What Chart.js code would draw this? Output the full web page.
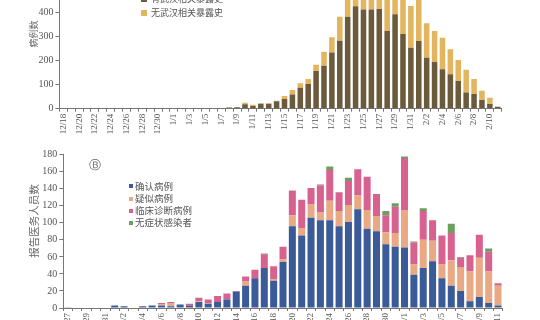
<!DOCTYPE html>
<html>
<head>
<meta charset="utf-8">
<script src="https://cdn.jsdelivr.net/npm/chart.js@4.4.1/dist/chart.umd.min.js"></script>
<style>
  body { margin: 0; width: 540px; height: 320px; overflow: hidden; background: #fff; position: relative;
         font-family: "Liberation Serif", "Noto Sans CJK SC", serif; }
  .box { position: absolute; left: 0; width: 540px; }
  .ytitle { position: absolute; white-space: nowrap; color: #666; transform: translate(-50%, -50%) rotate(-90deg);
            font-family: "Noto Sans CJK SC", sans-serif; }
  .legend { position: absolute; font-family: "Noto Sans CJK SC", sans-serif; color: #555; }
  .legend div { position: relative; white-space: nowrap; }
  .legend span { display: inline-block; vertical-align: middle; }
  .mark { position: absolute; font-family: "DejaVu Sans", sans-serif; color: #666; }
</style>
</head>
<body>
<div class="box" style="top:-20px;height:160px"><canvas id="chartA"></canvas></div>
<div class="box" style="top:140px;height:200px"><canvas id="chartB"></canvas></div>

<div class="ytitle" style="left:33px;top:34px;font-size:9px">病例数</div>
<div class="ytitle" style="left:33px;top:221px;font-size:10.5px">报告医务人员数</div>
<div class="mark" style="left:89px;top:157px;font-size:12px">Ⓑ</div>

<div class="legend" id="legA" style="left:141px;top:-9px;font-size:9px;line-height:13px"></div>
<div class="legend" id="legB" style="left:129px;top:180px;font-size:9.5px;line-height:11.5px"></div>

<script>
// top chart: 12/18 - 2/11
const datesA = ['12/18','12/19','12/20','12/21','12/22','12/23','12/24','12/25','12/26','12/27','12/28','12/29','12/30','12/31',
  '1/1','1/2','1/3','1/4','1/5','1/6','1/7','1/8','1/9','1/10','1/11','1/12','1/13','1/14','1/15','1/16','1/17','1/18','1/19',
  '1/20','1/21','1/22','1/23','1/24','1/25','1/26','1/27','1/28','1/29','1/30','1/31',
  '2/1','2/2','2/3','2/4','2/5','2/6','2/7','2/8','2/9','2/10','2/11'];
const withExposure = [2,0,2,0,0,0,0,0,1,0,1,0,0,0,
  0,1,2,1,3,2,3,5,6,18,11,20,20,31,40,59,87,102,156,
  178,233,281,381,424,411,411,413,322,391,309,252,
  280,211,193,163,143,115,67,61,36,19,8];
const noExposure = [0,0,0,0,0,0,0,0,0,0,0,0,0,0,
  0,0,0,0,0,0,0,0,0,7,5,3,3,2,13,18,18,21,26,
  58,63,100,100,90,85,95,80,190,110,180,173,
  180,143,129,131,103,87,94,62,38,26,0];

// bottom chart: 12/27 - 2/11
const datesB = ['12/27','12/28','12/29','12/30','12/31',
  '1/1','1/2','1/3','1/4','1/5','1/6','1/7','1/8','1/9','1/10','1/11','1/12','1/13','1/14','1/15','1/16','1/17','1/18','1/19',
  '1/20','1/21','1/22','1/23','1/24','1/25','1/26','1/27','1/28','1/29','1/30','1/31',
  '2/1','2/2','2/3','2/4','2/5','2/6','2/7','2/8','2/9','2/10','2/11'];
const confirmed = [1,0,0,0,0, 3,2,0,2,3,3,2,4,3,7,5,7,10,19,26,35,47,32,54,
  96,85,106,103,103,96,101,116,93,90,75,72, 71,39,47,55,35,26,20,8,13,6,3];
const suspected = [0,0,0,0,0, 0,0,0,0,0,1,4,0,0,1,1,0,0,0,5,0,0,2,3,
  13,9,16,9,23,18,20,16,22,18,14,16, 44,12,33,24,16,30,28,35,46,37,23];
const clinical = [0,0,0,0,0, 0,0,0,0,0,2,1,0,2,4,4,7,7,1,6,10,16,15,15,
  29,33,19,32,36,22,28,31,39,26,20,31, 61,26,34,24,34,32,11,19,27,23,3];
const asymptomatic = [0,0,0,0,0, 0,0,0,0,0,0,0,0,0,0,0,0,0,0,0,0,1,0,0,
  0,0,0,1,4,0,4,0,0,0,5,4, 2,1,3,0,0,11,1,0,0,4,0];

const namesA = ['有武汉相关暴露史', '无武汉相关暴露史'];
const colorsA = ['#6b5b3c', '#e2b55e'];
const namesB = ['确认病例', '疑似病例', '临床诊断病例', '无症状感染者'];
const colorsB = ['#3b5a98', '#e8a984', '#d8628f', '#6c9e5e'];

const tickFont = { family: 'Liberation Serif', size: 10 };
const axisColor = '#777';

function makeLegend(id, names, colors, sq) {
  const el = document.getElementById(id);
  names.forEach((n, i) => {
    const row = document.createElement('div');
    row.innerHTML = '<span style="width:' + sq + 'px;height:' + sq + 'px;background:' + colors[i] +
      ';margin-right:' + (sq > 5 ? 4 : 2) + 'px"></span><span>' + n + '</span>';
    el.appendChild(row);
  });
}
makeLegend('legA', namesA, colorsA, 6);
makeLegend('legB', namesB, colorsB, 4);

function scales(labels, yMax, yStep, yWidth, xHeight) {
  return {
    x: {
      stacked: true,
      grid: { display: true, drawOnChartArea: false, tickLength: 3, color: axisColor },
      border: { color: axisColor },
      ticks: {
        autoSkip: false, minRotation: 90, maxRotation: 90, padding: 2,
        font: { family: 'Liberation Serif', size: 9 }, color: '#555',
        callback: (v, i) => (i % 2 ? '' : labels[i])
      },
      afterFit: s => { s.height = xHeight; }
    },
    y: {
      stacked: true, min: 0, max: yMax,
      grid: { display: true, drawOnChartArea: false, tickLength: 4, color: axisColor },
      border: { color: axisColor },
      ticks: { stepSize: yStep, padding: 2, font: tickFont, color: '#555' },
      afterFit: s => { s.width = yWidth; }
    }
  };
}

new Chart(document.getElementById('chartA'), {
  type: 'bar',
  data: {
    labels: datesA,
    datasets: [
      { label: namesA[0], data: withExposure, backgroundColor: colorsA[0] },
      { label: namesA[1], data: noExposure, backgroundColor: colorsA[1] }
    ]
  },
  options: {
    responsive: true, maintainAspectRatio: false, animation: false,
    datasets: { bar: { categoryPercentage: 1, barPercentage: 0.7 } },
    layout: { padding: { top: 6.7, left: 0, right: 38.3, bottom: 0 } },
    plugins: { legend: { display: false }, tooltip: { enabled: false } },
    scales: scales(datesA, 500, 100, 59.4, 31.3)
  }
});

new Chart(document.getElementById('chartB'), {
  type: 'bar',
  data: {
    labels: datesB,
    datasets: [
      { label: namesB[0], data: confirmed, backgroundColor: colorsB[0] },
      { label: namesB[1], data: suspected, backgroundColor: colorsB[1] },
      { label: namesB[2], data: clinical, backgroundColor: colorsB[2] },
      { label: namesB[3], data: asymptomatic, backgroundColor: colorsB[3] }
    ]
  },
  options: {
    responsive: true, maintainAspectRatio: false, animation: false,
    datasets: { bar: { categoryPercentage: 1, barPercentage: 0.75 } },
    layout: { padding: { top: 14.7, left: 0, right: 37.3, bottom: 0 } },
    plugins: { legend: { display: false }, tooltip: { enabled: false } },
    scales: scales(datesB, 180, 20, 63.3, 32)
  }
});
</script>
</body>
</html>
